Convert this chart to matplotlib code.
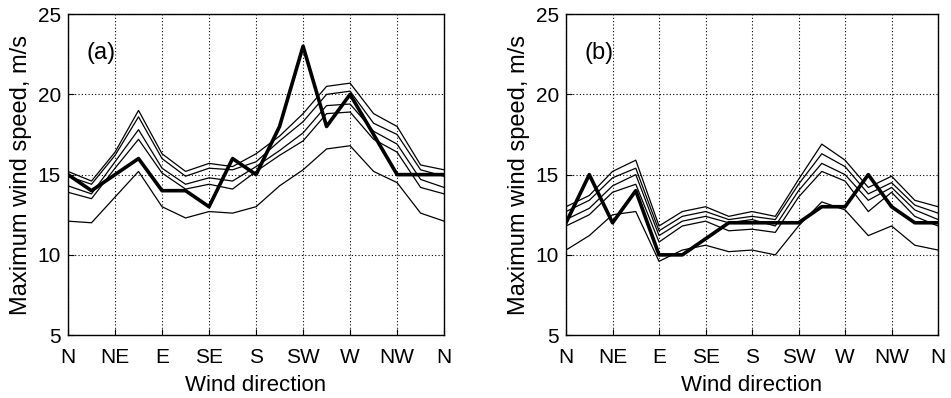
import matplotlib
matplotlib.use("Agg")
import matplotlib.pyplot as plt
import numpy as np

plt.rcParams['font.family'] = ['Liberation Sans', 'DejaVu Sans']

# 16 compass points + back to N
idx = np.arange(17)
tick_pos = [0, 2, 4, 6, 8, 10, 12, 14, 16]
tick_labels = ['N', 'NE', 'E', 'SE', 'S', 'SW', 'W', 'NW', 'N']

# panel (a)
a_thin1 = [15.2, 14.6, 16.4, 19.0, 16.3, 15.2, 15.7, 15.5, 16.3, 17.4, 18.8, 20.5, 20.7, 18.8, 18.0, 15.6, 15.3]
a_thin2 = [14.9, 14.4, 16.2, 18.6, 16.0, 14.9, 15.4, 15.3, 15.8, 17.1, 18.3, 20.0, 20.2, 18.2, 17.5, 15.3, 14.9]
a_thin3 = [14.3, 13.8, 15.8, 17.8, 15.4, 14.4, 14.8, 14.6, 15.5, 16.5, 17.6, 19.3, 19.4, 17.7, 16.9, 14.7, 14.2]
a_thin4 = [13.9, 13.5, 15.4, 17.2, 15.1, 14.1, 14.4, 14.1, 15.2, 16.2, 17.1, 18.8, 18.9, 17.2, 16.4, 14.2, 13.8]
a_low = [12.1, 12.0, 13.6, 15.2, 13.0, 12.3, 12.7, 12.6, 13.0, 14.3, 15.3, 16.6, 16.8, 15.2, 14.5, 12.6, 12.1]
a_obs = [15, 14, 15, 16, 14, 14, 13, 16, 15, 18, 23, 18, 20, 17.5, 15, 15, 15]

# panel (b)
b_thin1 = [13.0, 13.7, 15.2, 15.9, 11.8, 12.7, 13.0, 12.4, 12.7, 12.4, 14.7, 16.9, 15.9, 14.2, 14.9, 13.4, 13.0]
b_thin2 = [12.7, 13.4, 14.8, 15.4, 11.5, 12.4, 12.7, 12.2, 12.4, 12.2, 14.4, 16.3, 15.5, 13.8, 14.5, 13.1, 12.6]
b_thin3 = [12.2, 12.9, 14.3, 15.0, 11.2, 12.1, 12.4, 12.0, 12.2, 11.8, 14.0, 15.7, 15.0, 13.4, 14.2, 12.8, 12.2]
b_thin4 = [11.8, 12.5, 13.9, 14.4, 10.8, 11.8, 12.1, 11.5, 11.6, 11.4, 13.6, 15.2, 14.6, 12.7, 13.9, 12.4, 11.8]
b_low = [10.3, 11.2, 12.5, 12.7, 9.6, 10.3, 10.6, 10.2, 10.3, 10.0, 11.8, 13.3, 12.8, 11.2, 11.8, 10.6, 10.3]
b_obs = [12, 15, 12, 14, 10, 10, 11, 12, 12, 12, 12, 13, 13, 15, 13, 12, 12]

panels = [
    ([0.0715, 0.158, 0.3955, 0.8065], [a_thin1, a_thin2, a_thin3, a_thin4, a_low], a_obs, '(a)'),
    ([0.5952, 0.158, 0.3912, 0.8065], [b_thin1, b_thin2, b_thin3, b_thin4, b_low], b_obs, '(b)'),
]

fig = plt.figure(figsize=(9.51, 3.98), dpi=100)
for rect, thin, obs, tag in panels:
    ax = fig.add_axes(rect)
    for s in thin:
        ax.plot(idx, s, color='k', lw=0.9)
    ax.plot(idx, obs, color='k', lw=2.6)
    ax.set_xlim(0, 16)
    ax.set_ylim(5, 25)
    ax.set_xticks(tick_pos)
    ax.set_xticklabels(tick_labels)
    ax.set_yticks([5, 10, 15, 20, 25])
    ax.grid(True, color='k', linestyle=(0, (1, 2)), lw=0.8)
    ax.tick_params(direction='in', length=4, labelsize=15, pad=5)
    ax.tick_params(axis='x', pad=9)
    ax.set_xlabel('Wind direction', fontsize=16, labelpad=6)
    ax.set_ylabel('Maximum wind speed, m/s', fontsize=17, labelpad=4)
    ax.text(0.05, 0.878, tag, transform=ax.transAxes, fontsize=17, va='center', ha='left')
    for sp in ax.spines.values():
        sp.set_linewidth(1.0)

fig.savefig('out.png', dpi=100)
